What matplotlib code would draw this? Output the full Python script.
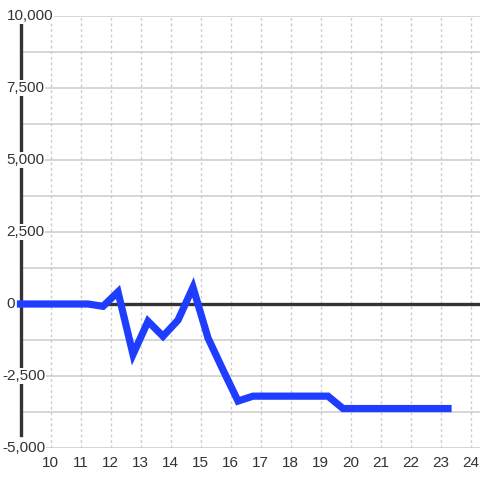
import matplotlib.pyplot as plt

# Data
hours = [9.0, 9.25, 9.75, 10.25, 10.75, 11.25, 11.75, 12.25, 12.75, 13.25, 13.75,
         14.25, 14.75, 15.25, 15.75, 16.25, 16.75, 17.25, 17.75, 18.25, 18.75,
         19.25, 19.75, 20.25, 20.75, 21.25, 21.75, 22.25, 22.75, 23.25]
values = [0, 0, 0, 0, 0, 0, -80, 420, -1750, -600, -1120,
          -560, 580, -1180, -2290, -3370, -3200, -3200, -3200, -3200, -3200,
          -3200, -3630, -3630, -3630, -3630, -3630, -3630, -3630, -3630]

y_ticks = [10000, 7500, 5000, 2500, 0, -2500, -5000]
y_grid = [-5000, -3750, -2500, -1250, 0, 1250, 2500, 3750, 5000, 6250, 7500, 8750, 10000]
x_ticks = list(range(10, 25))

plt.rcParams['font.family'] = ['Liberation Sans', 'DejaVu Sans']

fig = plt.figure(figsize=(4.8, 4.8), dpi=100, facecolor='white')
ax = fig.add_axes([20.5 / 480, 32 / 480, 1 - 20.5 / 480, 432 / 480])
ax.set_xlim(9, 9 + 459.5 / 30)
ax.set_ylim(-5000, 10000)

# grid
for g in y_grid:
    ax.axhline(g, color='#cccccc', lw=1.1, zorder=1)
for x in x_ticks:
    ax.axvline(x, color='#cccccc', lw=1.0, ls=(0, (2, 2)), zorder=1)

# zero line
ax.axhline(0, color='#333333', lw=2.4, zorder=2)

for s in ['top', 'right', 'bottom']:
    ax.spines[s].set_visible(False)
ax.spines['left'].set_color('#333333')
ax.spines['left'].set_linewidth(2.4)
ax.spines['left'].set_bounds(-4550, 9720)
ax.spines['left'].set_zorder(3)

ax.plot(hours, values, color='#1f3dff', lw=5.2, solid_capstyle='projecting',
        solid_joinstyle='miter', clip_on=False, zorder=4)

ax.set_xticks(x_ticks)
ax.set_xticklabels([str(x) for x in x_ticks], fontsize=11, color='#333333')
ax.tick_params(axis='x', length=0, pad=6)
ax.set_yticks([])

# y labels with white boxes over the spine
for v in y_ticks:
    lx = 2.5 if v < 0 else 6.5
    ax.text(lx / 480, v, f'{v:,}'.replace('-', '-'), transform=ax.get_yaxis_transform().__class__(fig.transFigure, ax.transData),
            ha='left', va='center', fontsize=11, color='#333333', zorder=5,
            bbox=dict(facecolor='white', edgecolor='none', pad=0.5))

fig.savefig('out.png', dpi=100, facecolor='white')
